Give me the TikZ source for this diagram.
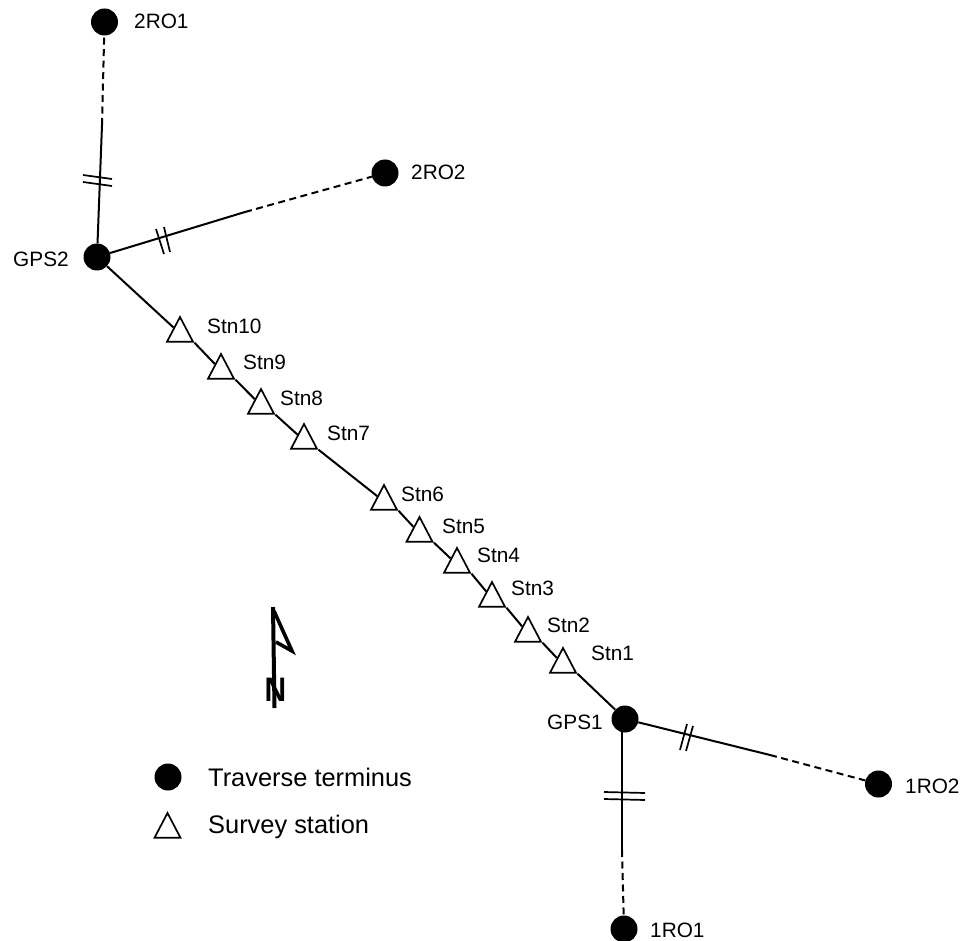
\documentclass[tikz,border=0pt]{standalone}
\usepackage{fontspec}
\setmainfont{Liberation Sans}
\usetikzlibrary{shapes.geometric,backgrounds}
\begin{document}
\begin{tikzpicture}[x=1pt,y=-1pt,
  term/.style={circle,fill=black,inner sep=0pt,minimum size=27pt},
  stn/.style={regular polygon,regular polygon sides=3,draw=black,fill=white,line width=1.7pt,inner sep=0pt,minimum size=30pt,yscale=1.1,transform shape},
  lab/.style={font=\fontsize{20.8}{22}\selectfont,anchor=west,inner sep=0pt},
  legend/.style={font=\fontsize{25.4}{27}\selectfont,anchor=west,inner sep=0pt},
  solidline/.style={line width=2pt,black},
  dashline/.style={line width=2pt,black,dash pattern=on 7pt off 4.5pt},
  tick/.style={line width=1.7pt,black}]
\useasboundingbox (0,0) rectangle (963,941);
% nodes
\node[term] (G2) at (97,257) {};
\node[term] (G1) at (625,719) {};
\node[term] (R21) at (104.5,22) {};
\node[term] (R22) at (385,173) {};
\node[term] (R12) at (878.5,784) {};
\node[term] (R11) at (624,929) {};
\coordinate (m21) at (102,125);
\coordinate (m22) at (245,212);
\coordinate (m12) at (770,755);
\coordinate (m11) at (622,850);
\coordinate (g1s) at (622,725);
% stations
\node[stn] (s10) at (180,333.5) {};
\node[stn] (s9) at (221,370.5) {};
\node[stn] (s8) at (261,405.5) {};
\node[stn] (s7) at (304,440.5) {};
\node[stn] (s6) at (384,501.5) {};
\node[stn] (s5) at (419.5,533.5) {};
\node[stn] (s4) at (457,564.5) {};
\node[stn] (s3) at (492,598.5) {};
\node[stn] (s2) at (528,633.5) {};
\node[stn] (s1) at (563,664.5) {};
% lines
\begin{scope}[on background layer]
\draw[solidline] (G2) -- (s10);
\draw[solidline] (s10.corner 3) -- (s9);
\draw[solidline] (s9.corner 3) -- (s8);
\draw[solidline] (s8.corner 3) -- (s7);
\draw[solidline] (s7.corner 3) -- (s6);
\draw[solidline] (s6.corner 3) -- (s5);
\draw[solidline] (s5.corner 3) -- (s4);
\draw[solidline] (s4.corner 3) -- (s3);
\draw[solidline] (s3.corner 3) -- (s2);
\draw[solidline] (s2.corner 3) -- (s1);
\draw[solidline] (s1.corner 3) -- (G1);
\end{scope}
\draw[solidline] (G2) -- (m21);
\draw[dashline] (m21) -- (R21);
\draw[solidline] (G2) -- (m22);
\draw[dashline] (m22) -- (R22);
\draw[solidline] (G1) -- (m12);
\draw[dashline] (m12) -- (R12);
\draw[solidline] (g1s) -- (m11);
\draw[dashline] (m11) -- (R11);
% ticks
\coordinate (a1) at (83,175);\coordinate (a2) at (112,179);
\coordinate (a3) at (83,182);\coordinate (a4) at (112,186);
\draw[tick] (a1) -- (a2); \draw[tick] (a3) -- (a4);
\coordinate (b1) at (156,229);\coordinate (b2) at (164,254);
\coordinate (b3) at (164,227);\coordinate (b4) at (170,252);
\draw[tick] (b1) -- (b2); \draw[tick] (b3) -- (b4);
\coordinate (c1) at (604,792);\coordinate (c2) at (645,793);
\coordinate (c3) at (604,799);\coordinate (c4) at (645,800);
\draw[tick] (c1) -- (c2); \draw[tick] (c3) -- (c4);
\coordinate (d1) at (687,724);\coordinate (d2) at (680,750);
\coordinate (d3) at (693,726);\coordinate (d4) at (686,751);
\draw[tick] (d1) -- (d2); \draw[tick] (d3) -- (d4);
% labels
\node[lab] (ls10) at (207,326) {Stn10};
\node[lab] (ls9) at (243,362) {Stn9};
\node[lab] (ls8) at (280,398) {Stn8};
\node[lab] (ls7) at (327,433) {Stn7};
\node[lab] (ls6) at (401,494) {Stn6};
\node[lab] (ls5) at (442,526) {Stn5};
\node[lab] (ls4) at (477,555) {Stn4};
\node[lab] (ls3) at (511,588) {Stn3};
\node[lab] (ls2) at (547,625) {Stn2};
\node[lab] (ls1) at (591,653) {Stn1};
\node[lab] (lg2) at (13,259) {GPS2};
\node[lab] (lg1) at (547,722) {GPS1};
\node[lab] (l21) at (134,21) {2RO1};
\node[lab] (l22) at (411,172) {2RO2};
\node[lab] (l12) at (905,786) {1RO2};
\node[lab] (l11) at (650,930) {1RO1};
% north arrow
\coordinate (n0) at (273,607);
\coordinate (n1) at (274.5,708);
\coordinate (n2) at (292,651);
\coordinate (n3) at (276,642);
\coordinate (n4) at (274,611);
\draw[line width=4pt,black] (n1) -- (n0);
\draw[line width=3.6pt,black,line join=miter,miter limit=20] (n4) -- (n2) -- (n3);
\node[font=\fontsize{34}{36}\bfseries\selectfont,inner sep=0pt,xscale=.88,transform shape] (N) at (275.5,689.5) {N};
% legend
\node[term] (k1) at (168,777) {};
\node[stn] (k2) at (167.5,829.5) {};
\node[legend] (k1t) at (208,777) {Traverse terminus};
\node[legend] (k2t) at (208,827) {Survey station};
\end{tikzpicture}
\end{document}
